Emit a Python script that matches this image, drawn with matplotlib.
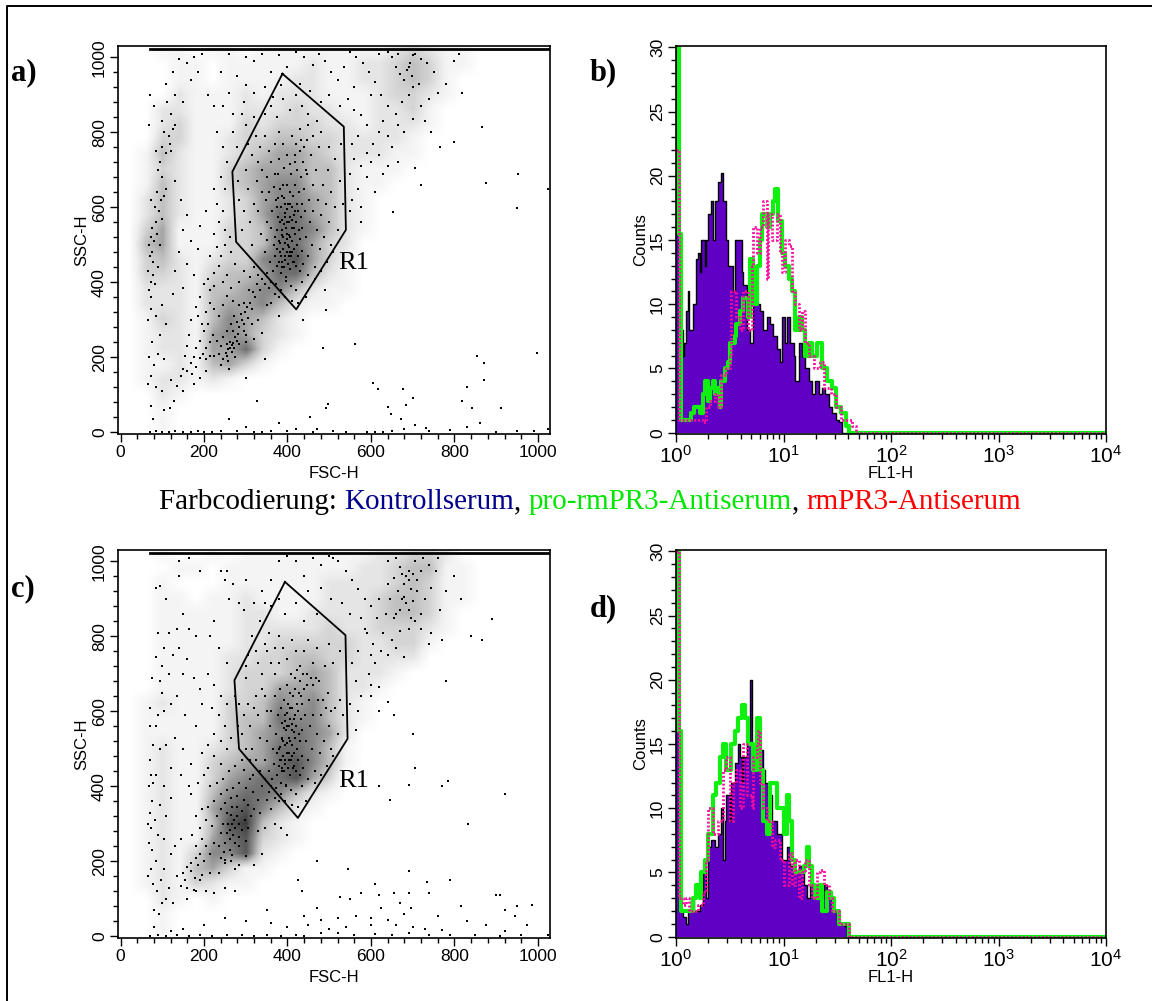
import matplotlib
matplotlib.use('Agg')
from matplotlib import pyplot as plt
from matplotlib.lines import Line2D
from matplotlib.ticker import FixedLocator, NullFormatter
import numpy as np

plt.rcParams['font.family'] = 'Liberation Sans'
plt.rcParams['mathtext.fontset'] = 'custom'
plt.rcParams['mathtext.rm'] = 'Liberation Sans'

W, H = 1152, 1001

# gates (FSC, SSC)
gate_a = [(388, 956), (535, 815), (540, 540), (421, 328), (277, 508), (268, 695), (388, 956)]
gate_c = [(394, 945), (539, 803), (544, 527), (425, 316), (284, 500), (273, 683), (394, 945)]

# how dark each 40x40 cell of the dot plots looks (0-9), top row first, FSC 0 on the left
shade_a = [
"00110110111111112321100000",
"00011011111211223431100000",
"00011011112211223431000000",
"00021112122211123321000000",
"00221112223221122310000000",
"00231113233322122210000000",
"00331123344332222100000000",
"01421123455432221100000000",
"01321134555442111000000000",
"01421134566442110000000000",
"02421123566542100000000000",
"02421123577542100000000000",
"03511133477642100000000000",
"04511133477532000000000000",
"03421233678531000000000000",
"03321344577421000000000000",
"02221445664211000000000000",
"02221455642110000000000000",
"01321465421000000000000000",
"01221565321000000000000000",
"01221557310000000000000000",
"01121453100000000000000000",
"01221210000000000000000000",
"00210000000000000000000000",
"00100000000000000000000000",
"00100000000000000000000000",
]
shade_c = [
"00100101111111122332000000",
"00011011111111223441100000",
"00100011111122223431100000",
"00110112111122234431100000",
"00111112211222234431000000",
"00111112222232233321000000",
"00111112233333223310000000",
"00111122334433222200000000",
"00111123334542221000000000",
"00111123355542210000000000",
"01211133465642100000000000",
"01111134476642100000000000",
"01111134567652000000000000",
"01211234577641000000000000",
"01211345578641000000000000",
"01211356778530000000000000",
"01211467764210000000000000",
"01211578642100000000000000",
"01211489421000000000000000",
"01211578321000000000000000",
"01213668210000000000000000",
"01214531100000000000000000",
"01213211000000000000000000",
"00210100000000000000000000",
"00100000000000000000000000",
"00100000000000000000000000",
]

# dots, by population
a_core = [
(345,480),(352,512),(358,455),(360,545),(362,590),(365,430),(368,500),(370,470),(372,620),(374,540),
(376,445),(378,575),(380,510),(381,480),(383,650),(384,425),(385,600),(386,540),(387,455),(388,565),
(389,490),(390,520),(391,440),(392,625),(393,470),(394,585),(395,505),(396,545),(397,415),(398,660),
(399,480),(400,560),(401,450),(402,610),(403,525),(404,495),(405,640),(406,575),(407,435),(408,690),
(409,470),(410,545),(411,600),(412,510),(413,455),(414,630),(415,580),(416,490),(417,720),(418,530),
(419,660),(420,445),(421,560),(422,610),(423,500),(424,700),(425,470),(426,590),(427,540),(428,640),
(429,430),(430,515),(431,750),(432,575),(433,680),(434,485),(435,610),(436,545),(437,720),(438,450),
(440,650),(442,590),(444,520),(446,780),(448,690),(450,470),(452,620),(454,560),(456,740),(458,500),
(460,660),(462,590),(465,440),(468,700),(470,540),(472,620),(475,760),(478,490),(480,580),(484,660),
(488,520),(492,610),(496,700),(500,560),(505,640),(510,480),(515,600),(520,540),(525,670),(532,610),
(350,560),(348,620),(340,640),(336,530),(330,590),(326,670),(320,610),(316,500),(310,560),(305,650),
(300,700),(296,590),(290,540),(285,620),(282,670),(340,700),(330,720),(350,680),(360,720),(370,690),
(380,730),(390,770),(400,740),(410,790),(420,770),(430,810),(440,760),(450,820),(460,790),(470,830),
(380,800),(370,770),(355,750),(345,790),(335,760),(325,790),(315,740),(305,770),(300,820),(320,840),
(345,850),(360,870),(375,840),(390,890),(405,860),(420,900),(435,870),(450,850),(480,800),(500,760),
(515,730),(528,770),(355,640),(368,655),(378,690),(392,705),(405,715),(418,740),(432,780),(445,700),
(395,460),(399,515),(403,470),(407,520),(411,480),(415,455),(383,505),(387,525),(391,555),(395,575),
(399,595),(403,560),(407,610),(411,565),(415,545),(419,590),(376,490),(380,455),(384,470),(388,440),
(370,520),(374,600),(378,625),(382,560),(386,630),(390,660),(394,610),(398,530),(402,500),(406,480),
(360,400),(372,395),(384,380),(396,405),(408,390),(420,380),(435,400),(450,420),(465,410),(445,360),
(410,350),(395,360),(425,345),(380,360),(370,370),(355,385),(480,430),(495,455),(505,500),
]
a_low = [
(262,225),(266,232),(270,238),(258,222),(273,226),(262,240),(268,215),(255,235),(278,244),(252,212),
(275,255),(282,262),(270,270),(285,280),(278,295),(290,300),(295,288),(288,315),(298,322),(305,305),
(302,335),(310,345),(315,330),(296,345),(322,360),(318,375),(308,380),(328,395),(335,380),(340,410),
(345,395),(350,425),(330,420),(285,340),(272,310),(265,290),(255,270),(245,255),(240,230),(235,210),
(245,195),(258,190),(230,245),(222,260),(215,240),(205,225),(198,210),(190,198),(182,225),(175,200),
(168,185),(160,165),(172,155),(180,175),(190,245),(200,270),(210,290),(195,290),(185,310),(205,320),
(215,345),(225,330),(235,310),(245,340),(255,365),(270,350),(225,390),(215,380),(210,410),(225,425),
(235,445),(245,400),(255,420),(265,385),(285,400),(295,430),(310,415),(320,440),(275,450),(240,470),
(230,495),(250,500),(265,480),(225,530),(235,560),(250,540),(262,520),(245,590),(232,610),(215,470),
(200,395),(190,360),(180,335),(170,300),(165,260),(160,230),(155,205),(150,170),(145,150),(175,130),
(190,145),(205,165),(225,205),(260,170),(240,180),(300,260),(315,290),(330,300),(350,340),(360,345),
(380,310),(340,265),(320,250),(205,195),(215,205),(275,200),(255,205),(285,235),(295,270),(300,240),
]
a_left = [
(68,500),(72,520),(76,480),(70,470),(75,545),(80,510),(84,560),(88,530),(92,590),(78,455),
(66,430),(72,400),(78,420),(68,380),(74,360),(82,395),(90,440),(95,500),(100,570),(96,620),
(88,640),(82,600),(105,630),(110,650),(100,680),(95,720),(90,700),(85,750),(100,760),(110,745),
(120,750),(115,790),(105,800),(125,810),(118,770),(130,820),(120,850),(112,880),(100,830),(80,870),
(70,900),(68,820),(72,620),(65,300),(72,330),(85,310),(100,340),(110,290),(95,260),(75,240),
(68,200),(80,180),(90,210),(105,195),(72,150),(66,130),(85,120),(100,110),(120,140),(135,125),
(150,110),(105,60),(118,65),(128,85),(78,35),(72,70),(130,670),(145,620),(160,580),(150,540),
(170,510),(185,490),(140,480),(160,450),(130,430),(125,370),(150,385),(175,420),(190,550),(205,590),
(110,930),(125,960),(140,995),(160,985),(175,1000),(195,1010),(170,940),(130,900),(150,880),(185,960),
]
a_upper = [
(690,975),(694,985),(686,965),(698,950),(680,940),(670,955),(660,975),(650,1000),(640,1015),(665,1010),
(705,1010),(720,995),(735,985),(750,960),(715,930),(700,920),(690,900),(675,880),(660,850),(640,870),
(625,900),(610,935),(595,960),(580,985),(565,1000),(550,1015),(535,975),(520,940),(505,960),(490,990),
(475,1010),(460,980),(440,1000),(420,1015),(400,975),(380,1005),(360,960),(340,1010),(320,990),(300,925),
(280,950),(260,905),(245,870),(270,850),(295,880),(320,905),(345,920),(365,895),(385,925),(430,930),
(455,910),(480,880),(500,900),(525,870),(545,890),(560,860),(575,845),(590,820),(570,790),(555,770),
(560,730),(575,710),(590,745),(605,770),(620,800),(640,790),(650,760),(665,820),(680,800),(700,835),
(720,870),(740,890),(760,905),(780,930),(800,990),(810,1010),(730,830),(745,800),(630,690),(610,640),
(590,680),(570,650),(555,620),(575,600),(600,720),(620,740),(550,690),(575,560),(550,590),(560,920),
(600,900),(630,830),(665,720),(640,710),(230,800),(245,760),(255,720),(240,680),(225,650),(250,650),
(280,760),(270,800),(290,850),(225,870),(210,900),(300,1000),(260,1010),(240,960),(620,1010),(700,1005),
]
a_stray = [
(865,815),(800,775),(953,689),(876,664),(1025,648),(949,597),(654,588),(817,904),(705,704),(561,236),
(486,224),(347,195),(300,144),(854,204),(871,184),(999,211),(871,140),(830,120),(605,131),(618,115),
(676,117),(700,93),(685,73),(817,84),(843,64),(911,64),(497,77),(493,64),(640,68),(649,48),
(455,40),(671,35),(705,20),(733,11),(861,24),(493,326),(491,381),(438,300),(326,84),(765,760),(720,660),
(260,35),(300,15),(380,25),(420,10),(470,8),(510,3),(590,2),(650,3),(680,10),(740,5),(790,7),(830,15),
(900,2),(950,3),(990,5),(1025,8),(100,2),(130,3),(170,1),(200,2),(240,3),(280,4),(340,1),(400,3),(460,2),
(70,2),(85,3),(115,2),(150,2),(185,3),(220,1),(320,2),(360,3),(540,2),(610,1),(630,2),
]

# dots, by population
c_core = [
(345,470),(350,520),(355,440),(358,560),(360,600),(362,420),(365,500),(368,460),(370,640),(372,540),
(375,430),(378,590),(380,500),(381,470),(383,660),(384,410),(385,610),(386,530),(387,450),(388,570),
(389,480),(390,520),(391,440),(392,630),(393,470),(394,590),(395,510),(396,550),(397,400),(398,670),
(399,490),(400,560),(401,450),(402,620),(403,530),(404,490),(405,650),(406,580),(407,430),(408,700),
(409,470),(410,550),(411,610),(412,510),(413,450),(414,640),(415,580),(416,490),(417,690),(418,530),
(419,660),(420,440),(421,560),(422,620),(423,500),(424,710),(425,470),(426,600),(427,540),(428,650),
(429,430),(430,520),(431,680),(432,580),(433,640),(434,480),(435,620),(436,550),(437,700),(438,450),
(440,660),(442,590),(444,520),(446,670),(448,700),(450,470),(452,630),(454,560),(456,690),(458,500),
(460,670),(462,590),(465,440),(468,690),(470,540),(472,630),(475,680),(478,490),(480,590),(484,630),
(488,520),(492,610),(496,650),(500,560),(505,600),(510,480),(515,610),(520,540),(525,630),(532,590),
(350,600),(345,640),(338,660),(335,530),(330,590),(325,640),(320,610),(315,500),(310,560),(305,620),
(300,690),(295,590),(290,540),(285,620),(282,560),(340,700),(330,730),(350,760),(360,730),(370,700),
(380,730),(390,770),(400,740),(410,790),(420,760),(430,720),(440,760),(450,790),(460,730),(470,770),
(380,800),(370,770),(355,810),(345,780),(335,840),(325,760),(315,800),(305,750),(300,720),(360,880),
(395,860),(420,890),(440,840),(470,860),(500,780),(510,730),(525,760),(490,720),(380,900),(345,890),
(395,460),(399,515),(403,470),(407,520),(411,480),(415,455),(383,505),(387,525),(391,555),(395,575),
(399,595),(403,560),(407,610),(411,565),(415,545),(419,590),(376,490),(380,455),(384,470),(388,440),
(360,400),(372,395),(384,380),(396,405),(408,390),(420,380),(435,400),(450,420),(465,410),(445,360),
(410,350),(395,360),(425,345),(380,360),(370,370),(355,385),(480,430),(495,455),(505,500),(345,420),
(335,440),(325,470),(318,430),(310,470),(300,500),(292,470),
]
c_low = [
(268,300),(272,310),(262,285),(275,290),(280,320),(265,325),(258,300),(270,270),(285,300),(262,260),
(275,250),(255,275),(250,250),(285,265),(292,285),(298,310),(290,335),(280,345),(268,345),(255,330),
(245,300),(240,275),(248,225),(262,230),(240,210),(235,240),(250,205),(268,218),(285,240),(300,255),
(305,290),(312,320),(305,350),(295,365),(280,375),(265,370),(250,355),(240,340),(230,320),(220,295),
(320,340),(330,365),(318,385),(300,395),(285,410),(270,395),(255,390),(240,380),(225,360),(210,345),
(340,400),(350,365),(335,330),(360,340),(370,300),(345,290),(385,290),(400,270),(330,280),
(205,240),(190,220),(180,210),(170,195),(160,185),(150,170),(168,175),(185,190),(200,200),(178,155),
(190,150),(155,150),(145,135),(160,130),(175,125),(195,165),(215,220),(225,250),(195,260),(180,240),
(172,270),(190,290),(205,310),(180,320),(195,340),(215,400),(230,410),(245,420),(260,440),(275,455),
(295,445),(310,420),(240,460),(225,480),(210,450),(200,430),(185,410),(170,380),(255,500),(240,520),
(225,540),(210,510),(195,490),(265,530),(250,560),(235,590),(220,610),(255,620),(275,640),(240,640),
(215,170),(235,170),(250,195),(265,200),(285,190),(320,190),(340,220),(300,215),(275,180),(160,100),
(180,120),(205,120),(225,115),(250,130),(275,120),
]
c_left = [
(68,400),(72,430),(78,410),(70,470),(75,360),(70,330),(66,300),(74,290),(82,310),(90,270),
(68,250),(76,230),(84,200),(72,180),(66,160),(78,140),(88,120),(96,150),(105,180),(115,130),
(100,90),(110,100),(92,60),(80,70),(125,90),(135,160),(120,220),(130,240),(145,260),(105,260),
(110,320),(95,350),(120,370),(105,400),(85,430),(95,500),(110,510),(78,510),(85,560),(70,610),
(90,590),(105,600),(120,620),(100,650),(75,690),(95,680),(115,700),(135,640),(155,590),(130,530),
(150,500),(170,460),(145,430),(165,400),(180,560),(195,620),(125,750),(105,770),(85,745),(100,720),
(140,770),(135,820),(115,810),(90,810),(150,700),(160,740),(175,690),(190,660),(165,820),(180,800),
(150,860),(110,900),(85,930),(95,935),(140,960),(140,1000),(165,1010),(190,975),(240,975),(250,950),
(260,900),(285,890),(225,840),(215,800),(235,770),(255,730),(210,700),(225,670),(120,450),(70,560),
]
c_upper = [
(685,960),(690,975),(680,940),(695,925),(670,985),(705,1000),(665,920),(710,950),(720,975),(700,895),
(690,870),(675,900),(660,860),(645,900),(655,955),(640,1000),(660,1010),(725,1010),(740,990),(755,975),
(745,930),(730,900),(720,860),(705,840),(690,820),(670,815),(650,790),(630,810),(615,850),(600,880),
(585,900),(570,925),(555,950),(540,975),(520,1000),(500,1015),(480,990),(460,1010),(440,960),(420,1000),
(400,1015),(380,1000),(360,950),(340,920),(320,890),(295,870),(300,950),(270,940),(255,975),(450,920),
(480,930),(505,900),(530,890),(550,860),(575,850),(590,810),(605,780),(625,760),(640,750),(660,770),
(680,745),(610,730),(595,700),(570,760),(555,730),(565,680),(575,640),(600,640),(620,600),(640,625),
(655,590),(620,665),(570,600),(550,620),(565,550),(600,670),(720,820),(745,810),(765,870),(780,920),
(800,960),(815,900),(770,790),(740,780),(510,1010),(760,1010),(640,940),(620,900),(585,820),(600,750),
(655,850),(635,860),(670,870),(695,850),(710,920),(680,905),(690,950),(675,965),(700,965),(685,890),
]
c_stray = [
(890,845),(840,800),(865,790),(780,680),(700,540),(705,450),(690,405),(620,400),(770,400),(785,415),
(645,365),(920,380),(832,300),(470,200),(545,180),(425,150),(690,175),(735,145),(790,150),(435,120),
(610,140),(655,115),(690,115),(740,115),(575,115),(620,110),(900,110),(910,110),(525,105),(550,100),
(985,85),(950,80),(815,80),(920,70),(470,75),(625,75),(670,90),(695,75),(350,70),(440,55),
(480,45),(520,50),(565,55),(600,50),(640,45),(680,60),(760,55),(830,40),(945,55),(875,30),
(975,30),(920,15),(730,20),(770,18),(700,25),(660,30),(600,30),(540,25),(500,20),(450,30),(400,25),
(360,35),(300,40),(250,50),(200,30),(150,20),(120,15),(80,25),(480,8),(520,10),(560,3),(610,6),
(650,4),(690,8),(740,3),(790,5),(850,4),(910,2),(960,3),(1025,3),(70,2),(90,3),(110,2),(135,3),
(165,2),(190,3),(220,2),(255,3),(290,4),(320,2),(350,3),(385,2),(420,3),(440,1),
]

# saturated events along the axes edges
a_top_x = [70, 1029]
c_top_x = [70, 1029]
off_scale_y = 1023

# histograms: FACS channel (256 channels over 4 decades) and counts
b_ctrl_ch = [0,2,4,5,6,7,8,9,10,12,13,14,15,17,18,19,21,22,23,25,27,28,30,31,33,34,35,38,39,40,42,44,46,48,50,52,54,56,58,60,62,63,65,66,68,70,71,73,75,77,79,81,83,85,87,89,91,93,95,97,99,255]
b_ctrl_n = [30,8,6,7,9.5,11,8,8,10,13.5,14,12.5,15,13,15,17,18,15,18,19.5,20.2,18,15,13,13,11,15,15,12.5,11.5,8,7,10,10,9.5,8,9,8.5,7.5,6.5,5.5,9,7,9,7,6,4,7,6,5,4,3,4,3,3.5,3,2,1.5,1,0.8,0,0]
b_green_ch = [0,2,3,9,11,14,16,17,19,20,22,23,25,26,27,29,31,32,35,36,38,40,43,44,46,48,50,51,54,56,58,59,61,63,65,67,69,71,73,75,77,79,81,84,87,90,93,95,98,101,103,255]
b_green_n = [30,15.5,1,1.5,2,1.5,3,4,2.5,3.5,4,3,3.5,2,4,5,5.5,7,7.5,8.5,9.5,10.5,9,13.5,10,13,15,17,16,17,18,19,16.5,14,13,12,11,8,9,8,6,7,6,7,5,4,3.5,2,1.5,0.5,0,0]
b_mag_ch = [0,2,16,18,20,23,25,27,30,32,33,36,38,40,43,45,46,48,50,52,54,55,57,60,62,63,65,67,69,71,73,75,77,79,82,86,88,92,95,98,103,105,107,255]
b_mag_n = [22,1,0.8,2,2.5,3,2,4.5,5,6,11,9,8,11,8,13,16,14,16,18,12,17,15,17,14,12.5,15,14.5,11,10,8,9.5,7,6,5,5.5,3.5,3,2,1,1,0.5,0,0]

d_ctrl_ch = [0,2,4,6,7,9,11,14,16,18,19,21,23,25,27,28,29,30,32,33,35,37,38,39,40,42,44,45,47,49,52,53,55,57,60,63,66,68,70,73,76,78,80,83,86,88,90,93,96,100,102,255]
d_ctrl_n = [30,2,1.5,1,2,3,2,2.5,5,3,7,7.5,7,8,10,6,9,11,9,12,13.5,15,14,12,14,15,20,15,14,14.5,13,12,11,9,8,6,7,5.5,5,5.5,4,3,4,3,3,4,3,2,1,0.8,0,0]
d_green_ch = [0,2,3,6,8,10,12,14,15,17,19,21,22,24,26,28,30,33,35,37,39,41,43,46,48,50,52,54,56,60,64,66,67,69,71,74,76,78,79,81,83,85,87,90,92,94,97,101,103,255]
d_green_n = [30,16,2,2,2,3,4,3,5,6,8,8,11,12,14,15,13,15,16,17,18,17,15,13,17,13,9,8,12,10,8,11,9,6,5,5,5.5,7,5.5,4,3,4,2,3.5,3,2,1,1,0,0]
d_mag_ch = [0,2,4,6,8,13,16,18,19,22,25,28,30,32,34,36,38,40,42,45,46,48,49,50,52,54,57,59,62,64,67,69,71,73,75,77,79,81,84,86,88,91,93,97,100,103,255]
d_mag_n = [30,3,2.5,3,2,2.5,3.5,6,10,8,9,13,14,9,12,13,10,15,11,10,14,15,16,12,10,9,7,7.5,6,4,6.5,4,6,3,5,6,4,3,5,5.2,4,3,2,1,1,0,0]

caption = [('Farbcodierung: ', 'black'), ('Kontrollserum', '#00008b'), (', ', 'black'),
           ('pro-rmPR3-Antiserum', '#00e600'), (', ', 'black'), ('rmPR3-Antiserum', '#ff0000')]


def px_axes(fig, left, top, right, bottom):
    return fig.add_axes([left / W, 1 - bottom / H, (right - left) / W, (bottom - top) / H])


def style(ax):
    for s in ax.spines.values():
        s.set_linewidth(1.2)
    ax.tick_params(which='major', length=6, width=1, labelsize=12.5, pad=2)
    ax.tick_params(which='minor', length=3.5, width=1)


def dot_plot(ax, shade, groups, gate, top_x, r1_y):
    grid = np.array([[int(c) for c in row] for row in shade])
    ax.imshow(grid, extent=(0, 1040, 0, 1040), cmap='Greys', vmin=0, vmax=11, aspect='auto',
              interpolation='bilinear', origin='upper')
    pts = np.array([p for g in groups for p in g])
    ax.scatter(pts[:, 0], pts[:, 1], s=3, c='black', marker='s', linewidths=0)
    ax.plot(top_x, [off_scale_y, off_scale_y], color='black', lw=2)
    ax.plot(*zip(*gate), color='black', lw=1.3)
    ax.set_xlim(-6, 1029)
    ax.set_ylim(-4, 1030)
    ax.set_xticks([0, 200, 400, 600, 800, 1000])
    ax.set_yticks([0, 200, 400, 600, 800, 1000])
    ax.xaxis.set_minor_locator(FixedLocator(range(0, 1040, 40)))
    ax.yaxis.set_minor_locator(FixedLocator(range(0, 1040, 40)))
    style(ax)
    ax.set_xlabel('FSC-H', fontsize=12, labelpad=4)
    ax.set_ylabel('SSC-H', fontsize=12, labelpad=2)
    for t in ax.get_yticklabels():
        t.set_rotation(90)
        t.set_va('center')
    ax.text(338 / W, 1 - r1_y / H, 'R1', transform=ax.figure.transFigure, family='Liberation Serif',
            fontsize=19, va='center')


def hist_plot(ax, ctrl, green, mag):
    ctrl_x = 10 ** (np.array(ctrl[0]) / 64)
    ax.fill_between(ctrl_x, ctrl[1], step='post', color='#5f00c4', lw=0)
    ax.step(ctrl_x, ctrl[1], where='post', color='black', lw=1.0)
    ax.step(10 ** (np.array(green[0]) / 64), green[1], where='post', color='#10f010', lw=3)
    ax.step(10 ** (np.array(mag[0]) / 64), mag[1], where='post', color='#ff0aa0', lw=2, ls=(0, (0.7, 0.7)))
    ax.set_xscale('log')
    ax.set_xlim(1, 1e4)
    ax.set_ylim(-0.1, 30.1)
    ax.set_yticks([0, 5, 10, 15, 20, 25, 30])
    ax.yaxis.set_minor_locator(FixedLocator(range(0, 31)))
    ax.set_xticks([1, 10, 100, 1000, 10000])
    ax.set_xticklabels(['$\\mathregular{10^{%d}}$' % i for i in range(5)])
    ax.xaxis.set_minor_formatter(NullFormatter())
    style(ax)
    ax.tick_params(axis='x', which='major', labelsize=15, pad=2)
    ax.set_xlabel('FL1-H', fontsize=12, labelpad=-1)
    ax.set_ylabel('Counts', fontsize=12, labelpad=1)
    for t in ax.get_yticklabels():
        t.set_rotation(90)
        t.set_va('center')


fig = plt.figure(figsize=(W / 100, H / 100), dpi=100)

ax_a = px_axes(fig, 118, 46, 550, 434)
dot_plot(ax_a, shade_a, [a_core, a_low, a_left, a_upper, a_stray], gate_a, a_top_x, 263)
ax_c = px_axes(fig, 118, 550, 550, 938)
dot_plot(ax_c, shade_c, [c_core, c_low, c_left, c_upper, c_stray], gate_c, c_top_x, 781)
ax_b = px_axes(fig, 676, 46, 1106, 434)
hist_plot(ax_b, (b_ctrl_ch, b_ctrl_n), (b_green_ch, b_green_n), (b_mag_ch, b_mag_n))
ax_d = px_axes(fig, 676, 550, 1106, 938)
hist_plot(ax_d, (d_ctrl_ch, d_ctrl_n), (d_green_ch, d_green_n), (d_mag_ch, d_mag_n))

for lab, x, y in [('a)', 11, 73), ('b)', 590, 73), ('c)', 11, 589), ('d)', 590, 609)]:
    fig.text(x / W, 1 - y / H, lab, family='Liberation Serif', fontsize=22, fontweight='bold', va='center')

# caption pieced together so each part gets its colour
cap_x = 159
rend = fig.canvas.get_renderer()
for part, col in caption:
    t = fig.text(cap_x / W, 1 - 502 / H, part, family='Liberation Serif', fontsize=21, color=col, va='center')
    cap_x += t.get_window_extent(rend).width

# page frame, only top and left are inside the crop
fig.add_artist(Line2D([7 / W, 7 / W, 1], [0, 1 - 6 / H, 1 - 6 / H], transform=fig.transFigure, color='black', lw=1.4))

fig.savefig('out.png', dpi=100)
